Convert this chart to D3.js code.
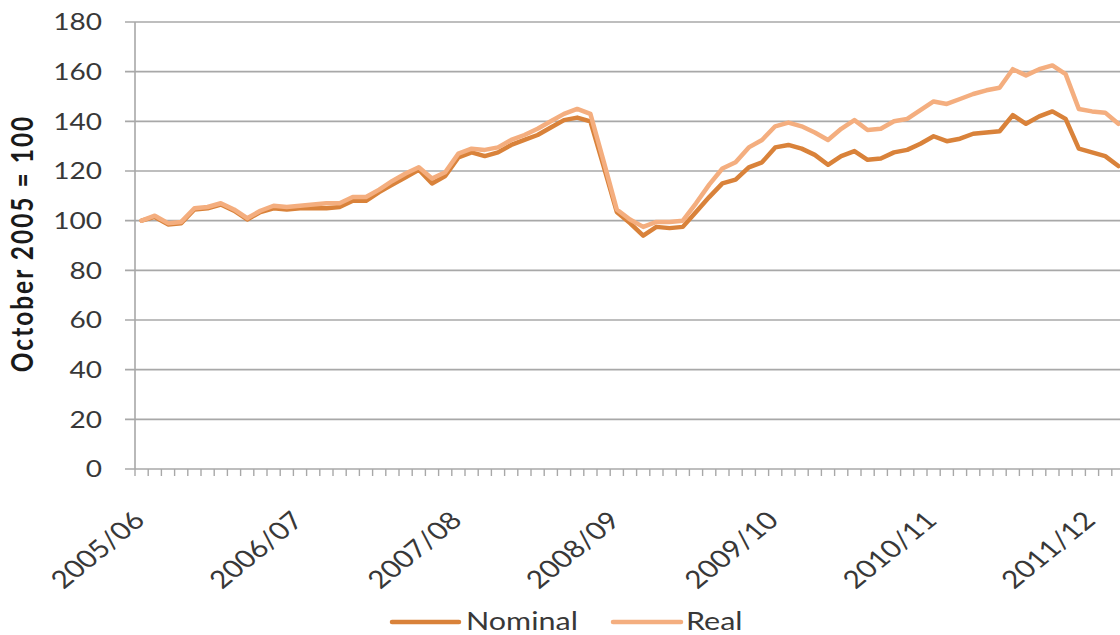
<!DOCTYPE html>
<html>
<head>
<meta charset="utf-8">
<script src="https://cdn.jsdelivr.net/npm/d3@7/dist/d3.min.js"></script>
<style>
  html, body { margin: 0; padding: 0; background: #fff; }
  svg { display: block; }
  text { font-family: Lato, "Open Sans", sans-serif; fill: #383838; }
</style>
</head>
<body>
<svg id="chart" width="1120" height="635"></svg>
<script>
// ---- data (monthly index, October 2005 = 100) ----
const seriesNames = ["Nominal", "Real"];
const nominal = [
  100, 101.5, 98.5, 99, 104.5, 105, 106.5, 104, 100.5, 103.5, 105, 104.5,
  105, 105, 105, 105.5, 108, 108, 111.5, 114.5, 117.5, 120.5, 115, 118,
  125.5, 127.5, 126, 127.5, 130.5, 132.5, 134.5, 137.5, 140.5, 141.5, 140, 122,
  103.5, 99, 94, 97.5, 97, 97.5, 103.5, 109.5, 115, 116.5, 121.5, 123.5,
  129.5, 130.5, 129, 126.5, 122.5, 126, 128, 124.5, 125, 127.5, 128.5, 131,
  134, 132, 133, 135, 135.5, 136, 142.5, 139, 142, 144, 141, 129,
  127.5, 126, 122
];
const real = [
  100, 102, 99, 99.5, 105, 105.5, 107, 104.5, 101, 104, 106, 105.5,
  106, 106.5, 107, 107, 109.5, 109.5, 112.5, 116, 119, 121.5, 117, 119.5,
  127, 129, 128.5, 129.5, 132.5, 134.5, 137, 140, 143, 145, 143, 124,
  104.5, 100.5, 97.5, 99.5, 99.5, 100, 107, 114.5, 121, 123.5, 129.5, 132.5,
  138, 139.5, 138, 135.5, 132.5, 137, 140.5, 136.5, 137, 140, 141, 144.5,
  148, 147, 149, 151, 152.5, 153.5, 161, 158.5, 161, 162.5, 159, 145,
  144, 143.5, 139
];
const xTickLabels = ["2005/06", "2006/07", "2007/08", "2008/09", "2009/10", "2010/11", "2011/12"];
const monthsPerLabel = 12;
const yTicks = [0, 20, 40, 60, 80, 100, 120, 140, 160, 180];
const yTitle = "October 2005 = 100";
const colors = { Nominal: "#D9823A", Real: "#F4AE7F" };

// ---- layout ----
const SX = 1.22;            // horizontal stretch of the original picture's text
const svg = d3.select("#chart");
const plotLeft = 135, plotTop = 22, plotBottom = 469, step = 13.2;
const categories = d3.range(nominal.length);
const x = d3.scaleBand().domain(categories).range([plotLeft, plotLeft + step * categories.length]).padding(0);
const y = d3.scaleLinear().domain([0, 180]).range([plotBottom, plotTop]);
const cx = i => x(i) + x.bandwidth() / 2;

const gridColor = "#A8A8A8";

// gridlines (with outside major tick)
svg.append("g").selectAll("line").data(yTicks.filter(t => t > 0)).join("line")
  .attr("x1", plotLeft - 10).attr("x2", 1120)
  .attr("y1", d => y(d)).attr("y2", d => y(d))
  .attr("stroke", gridColor).attr("stroke-width", 1.6);

// axes
svg.append("line").attr("x1", plotLeft).attr("x2", plotLeft).attr("y1", plotTop).attr("y2", plotBottom)
  .attr("stroke", gridColor).attr("stroke-width", 1.6);
svg.append("line").attr("x1", plotLeft - 10).attr("x2", 1120).attr("y1", plotBottom).attr("y2", plotBottom)
  .attr("stroke", gridColor).attr("stroke-width", 1.6);
// minor category tick marks
svg.append("g").selectAll("line").data(d3.range(categories.length + 1)).join("line")
  .attr("x1", d => plotLeft + d * x.step()).attr("x2", d => plotLeft + d * x.step())
  .attr("y1", plotBottom).attr("y2", plotBottom + 7)
  .attr("stroke", gridColor).attr("stroke-width", 1.4);

// y tick labels
svg.append("g").selectAll("text").data(yTicks).join("text")
  .attr("transform", d => `translate(102,${y(d)}) scale(${SX},1)`)
  .attr("text-anchor", "end").attr("dy", "0.36em")
  .style("font-size", "23px")
  .text(d => d);

// x labels
svg.append("g").selectAll("text").data(xTickLabels).join("text")
  .attr("transform", (d, k) => `translate(${cx(k * monthsPerLabel) + 5},522) scale(${SX},1) rotate(-45)`)
  .attr("text-anchor", "end")
  .style("font-size", "24.5px")
  .text(d => d);

// y title
svg.append("text")
  .attr("transform", `translate(33,${(plotTop + plotBottom) / 2 - 2}) scale(${SX},1) rotate(-90)`)
  .attr("text-anchor", "middle")
  .style("font-size", "24.5px").style("font-weight", "bold").style("letter-spacing", "2px")
  .style("fill", "#1a1a1a")
  .text(yTitle);

// lines
const line = d3.line().x((d, i) => cx(i)).y(d => y(d)).curve(d3.curveLinear);
const seriesData = { Nominal: nominal, Real: real };
seriesNames.forEach(name => {
  svg.append("path").datum(seriesData[name])
    .attr("d", line).attr("fill", "none")
    .attr("stroke", colors[name]).attr("stroke-width", 4.5)
    .attr("stroke-linejoin", "round").attr("stroke-linecap", "round");
});

// legend
const legendItems = [
  { name: "Nominal", x1: 392, x2: 459, tx: 466 },
  { name: "Real", x1: 613, x2: 681, tx: 686 }
];
legendItems.forEach(it => {
  svg.append("line").attr("x1", it.x1).attr("x2", it.x2).attr("y1", 622).attr("y2", 622)
    .attr("stroke", colors[it.name]).attr("stroke-width", 4.5).attr("stroke-linecap", "round");
  svg.append("text").attr("transform", `translate(${it.tx},630) scale(${SX},1)`)
    .style("font-size", "25px").text(it.name);
});
</script>
</body>
</html>
